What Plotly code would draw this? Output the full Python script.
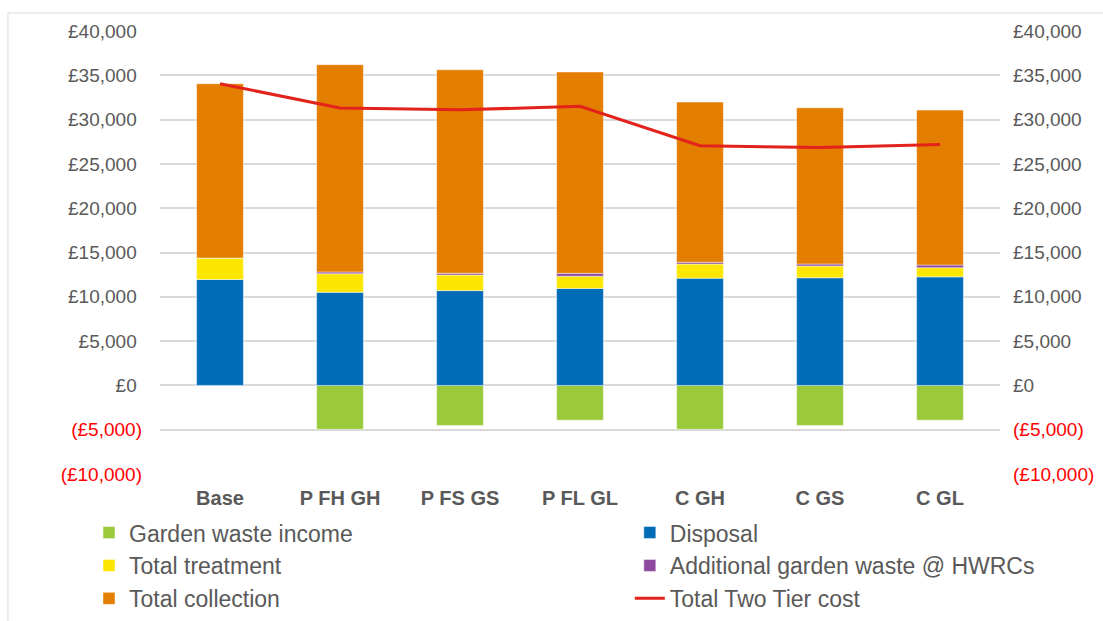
import plotly.graph_objects as go

categories = ["Base", "P FH GH", "P FS GS", "P FL GL", "C GH", "C GS", "C GL"]
garden_income = [0, -4950, -4520, -3920, -4950, -4520, -3920]
disposal = [11950, 10500, 10700, 10950, 12100, 12150, 12250]
treatment = [2430, 2100, 1770, 1370, 1600, 1330, 1040]
additional = [0, 200, 190, 330, 200, 220, 300]
collection = [19670, 23400, 22970, 22720, 18080, 17630, 17480]
total_two_tier = [34050, 31300, 31100, 31500, 27050, 26850, 27200]

tick_vals = [-10000, -5000, 0, 5000, 10000, 15000, 20000, 25000, 30000, 35000, 40000]
tick_labels = ["(£10,000)", "(£5,000)", "£0", "£5,000", "£10,000", "£15,000",
               "£20,000", "£25,000", "£30,000", "£35,000", "£40,000"]


def fmt(label, pad):
    if label.startswith("("):
        return '<span style="color:#FF0000">' + label + "</span>"
    return label + ("\u00a0" if pad else "")


left_text = [fmt(t, True) for t in tick_labels]
right_text = [fmt(t, False) for t in tick_labels]

FONT = "Liberation Sans, Arial"
edge = dict(width=1, color="rgba(255,255,255,0.45)")
fig = go.Figure()
fig.add_trace(go.Bar(x=categories, y=garden_income, name="Garden waste income",
                     marker=dict(color="#9ACA3C", line=edge), legend="legend", legendgroup="a"))
fig.add_trace(go.Bar(x=categories, y=disposal, name="Disposal",
                     marker=dict(color="#006BB6", line=edge), legend="legend2", legendgroup="d"))
fig.add_trace(go.Bar(x=categories, y=treatment, name="Total treatment",
                     marker=dict(color="#FDE600", line=edge), legend="legend", legendgroup="b"))
fig.add_trace(go.Bar(x=categories, y=additional, name="Additional garden waste @ HWRCs",
                     marker=dict(color="#8E4A9E", line=edge), legend="legend2", legendgroup="e"))
fig.add_trace(go.Bar(x=categories, y=collection, name="Total collection",
                     marker=dict(color="#E37E00", line=edge), legend="legend", legendgroup="c"))
fig.add_trace(go.Scatter(x=categories, y=total_two_tier, name="Total Two Tier cost",
                         mode="lines", line=dict(color="#E3221C", width=3), yaxis="y2",
                         legend="legend2", legendgroup="f"))

axis_common = dict(range=[-10000, 40000], tickvals=tick_vals,
                   tickfont=dict(family=FONT, size=19, color="#595959"),
                   ticks="", zeroline=False, fixedrange=True, automargin=False)

legend_common = dict(orientation="v", xref="container", yref="container",
                     xanchor="left", yanchor="top",
                     font=dict(family=FONT, size=23, color="#595959"),
                     tracegroupgap=0, bgcolor="rgba(0,0,0,0)",
                     itemclick=False, itemdoubleclick=False)

fig.update_layout(
    width=1103, height=621,
    margin=dict(l=160, r=103, t=31, b=147, autoexpand=False),
    paper_bgcolor="white", plot_bgcolor="white",
    barmode="relative", bargap=0.61,
    font=dict(family=FONT, color="#595959"),
    xaxis=dict(tickfont=dict(family=FONT, size=20, color="#595959"),
               ticklabelstandoff=10, showline=False, showgrid=False, automargin=False),
    yaxis=dict(**axis_common, ticktext=left_text, showgrid=True, gridcolor="#D9D9D9",
               gridwidth=1.5, ticklabelstandoff=17),
    yaxis2=dict(**axis_common, ticktext=right_text, overlaying="y", side="right",
                showgrid=False, ticklabelstandoff=12),
    legend=dict(**legend_common, x=0.0807, y=0.177),
    legend2=dict(**legend_common, x=0.571, y=0.177),
    showlegend=True,
    shapes=[dict(type="rect", xref="paper", yref="paper",
                 x0=-0.181, x1=1.14, y0=-0.36, y1=1.0406,
                 line=dict(color="#D9D9D9", width=1), layer="below")],
)
fig.update_xaxes(tickprefix="<b>", ticksuffix="</b>")

fig.write_html("out.html")
